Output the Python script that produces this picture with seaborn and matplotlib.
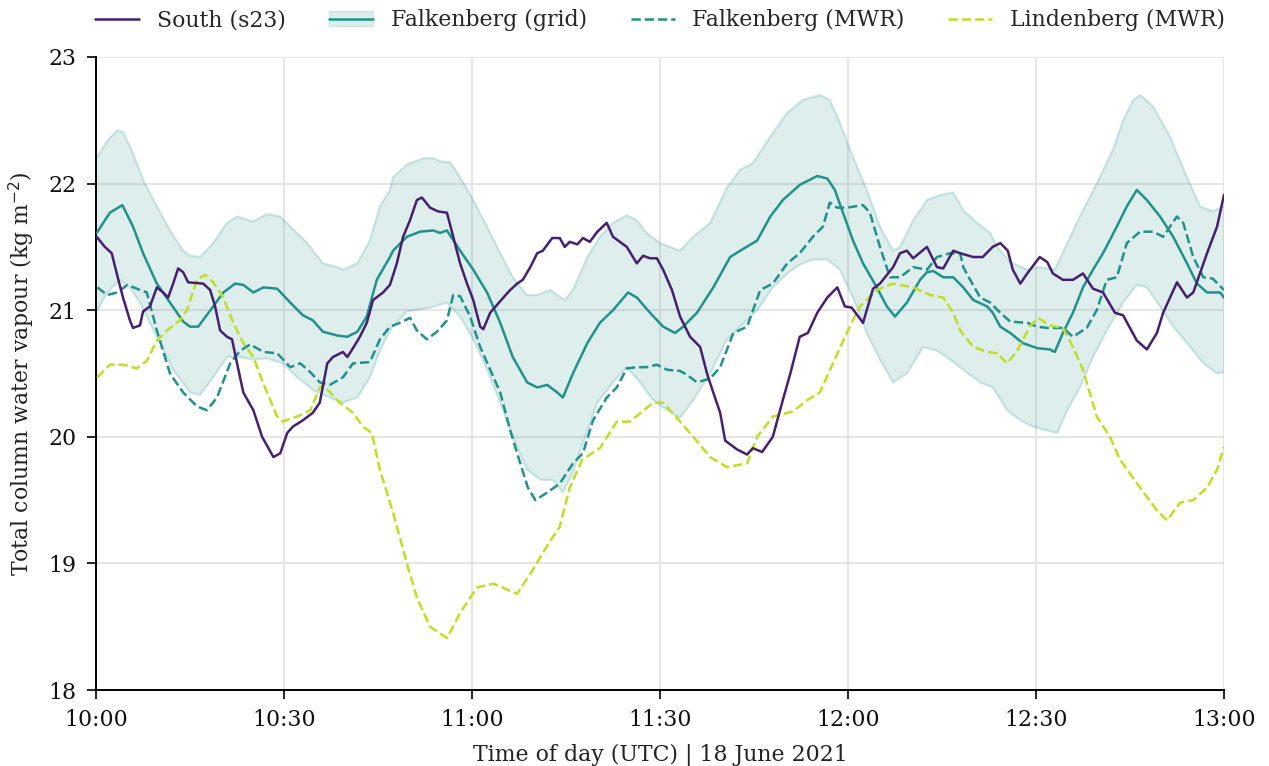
import numpy as np
import pandas as pd
import matplotlib
matplotlib.use("Agg")
import matplotlib.pyplot as plt
from matplotlib.patches import Patch
from matplotlib.lines import Line2D
import seaborn as sns

# ---- data: minutes after 10:00 UTC, total column water vapour (kg m-2) ----
south_t = [0.1, 1.4, 2.5, 3.3, 4.3, 5.4, 5.9, 7.0, 7.5, 8.6, 9.7, 10.7, 11.5, 12.3, 13.1, 13.9, 14.7,
           17.1, 18.2, 19.0, 19.8, 20.9, 21.7, 22.5, 23.5, 25.1, 26.5, 28.3, 29.4, 30.5, 31.4, 33.0,
           34.6, 35.7, 36.9, 37.8, 39.4, 40.1, 41.0, 42.1, 43.2, 44.2, 45.8, 46.9, 48.0, 49.0, 50.1,
           51.2, 52.0, 53.3, 54.6, 56.0, 57.0, 58.1, 59.2, 60.2, 61.3, 61.8, 62.9, 65.0, 66.1, 67.2,
           68.1, 69.3, 70.4, 71.3, 72.8, 74.0, 74.8, 75.6, 76.8, 77.7, 78.8, 80.0, 81.5, 82.5, 84.7,
           86.3, 87.3, 88.4, 89.5, 90.5, 91.9, 93.2, 94.8, 96.4, 97.5, 98.5, 99.6, 100.4, 102.3,
           103.9, 104.8, 106.3, 108.0, 109.6, 110.8, 112.3, 113.6, 115.1, 116.7, 118.3, 119.5, 120.6,
           122.4, 124.0, 125.1, 127.2, 128.3, 129.4, 130.4, 132.6, 134.2, 135.2, 136.8, 137.9, 140.0,
           141.5, 143.1, 144.3, 145.5, 146.3, 147.5, 148.6, 150.6, 151.8, 152.7, 154.3, 155.9, 157.5,
           159.1, 160.7, 162.6, 163.9, 166.1, 167.7, 169.3, 170.3, 172.5, 174.1, 175.1, 177.3, 178.9,
           180.0]
south_v = [21.58, 21.50, 21.45, 21.29, 21.10, 20.92, 20.86, 20.88, 20.99, 21.03, 21.18, 21.14, 21.10,
           21.21, 21.33, 21.30, 21.22, 21.21, 21.16, 21.03, 20.84, 20.79, 20.77, 20.58, 20.35, 20.21,
           20.00, 19.84, 19.87, 20.03, 20.08, 20.13, 20.19, 20.27, 20.58, 20.63, 20.67, 20.63, 20.70,
           20.79, 20.90, 21.08, 21.14, 21.20, 21.37, 21.58, 21.71, 21.87, 21.89, 21.81, 21.78, 21.77,
           21.58, 21.37, 21.21, 21.08, 20.87, 20.85, 20.98, 21.10, 21.16, 21.21, 21.24, 21.34, 21.45,
           21.47, 21.57, 21.57, 21.50, 21.54, 21.52, 21.57, 21.54, 21.62, 21.69, 21.58, 21.50, 21.37,
           21.43, 21.41, 21.41, 21.32, 21.16, 20.95, 20.79, 20.71, 20.50, 20.35, 20.19, 19.97, 19.90,
           19.86, 19.91, 19.88, 20.00, 20.29, 20.50, 20.79, 20.82, 20.98, 21.10, 21.18, 21.03, 21.02,
           20.90, 21.17, 21.21, 21.34, 21.45, 21.47, 21.41, 21.50, 21.34, 21.33, 21.47, 21.45, 21.42,
           21.42, 21.50, 21.53, 21.47, 21.32, 21.21, 21.29, 21.42, 21.38, 21.29, 21.24, 21.24, 21.29,
           21.17, 21.14, 20.98, 20.96, 20.76, 20.69, 20.82, 20.98, 21.22, 21.10, 21.14, 21.45, 21.66,
           21.91]

grid_t = [0.1, 2.2, 4.2, 5.9, 7.5, 9.7, 11.8, 13.9, 15.0, 16.3, 18.7, 20.3, 22.2, 23.5, 25.1, 26.7,
          28.9, 31.0, 33.0, 34.6, 36.2, 38.5, 40.1, 41.7, 43.2, 44.8, 46.9, 47.4, 49.6, 51.7, 53.8,
          54.9, 56.0, 58.1, 60.2, 62.4, 64.5, 66.5, 68.8, 70.4, 72.0, 73.6, 74.5, 76.1, 78.4, 80.4,
          82.5, 84.9, 86.3, 88.4, 90.5, 92.4, 93.7, 95.9, 98.5, 101.2, 102.8, 105.5, 107.6, 109.6,
          112.3, 115.1, 116.7, 117.9, 119.2, 120.8, 122.4, 124.6, 126.2, 127.5, 129.4, 131.5, 132.6,
          133.6, 135.2, 136.8, 138.4, 140.0, 142.2, 143.1, 144.3, 145.9, 147.9, 150.2, 152.2, 153.0,
          154.3, 155.9, 157.5, 159.1, 160.7, 162.9, 164.5, 166.1, 167.7, 169.8, 171.9, 174.1, 175.7,
          177.3, 179.4, 180.0]
grid_v = [21.61, 21.77, 21.83, 21.66, 21.45, 21.21, 21.06, 20.91, 20.87, 20.87, 21.03, 21.14, 21.21,
          21.20, 21.14, 21.18, 21.17, 21.06, 20.96, 20.92, 20.83, 20.80, 20.79, 20.83, 20.95, 21.24,
          21.42, 21.47, 21.58, 21.62, 21.63, 21.61, 21.63, 21.47, 21.32, 21.14, 20.90, 20.63, 20.43,
          20.39, 20.41, 20.35, 20.31, 20.50, 20.74, 20.90, 21.00, 21.14, 21.10, 20.98, 20.87, 20.82,
          20.87, 20.98, 21.18, 21.42, 21.47, 21.55, 21.74, 21.87, 21.99, 22.06, 22.04, 21.95, 21.77,
          21.55, 21.37, 21.18, 21.03, 20.95, 21.06, 21.24, 21.30, 21.31, 21.26, 21.26, 21.18, 21.08,
          21.03, 20.98, 20.87, 20.82, 20.74, 20.70, 20.69, 20.67, 20.82, 20.98, 21.18, 21.32, 21.45,
          21.66, 21.82, 21.95, 21.87, 21.74, 21.58, 21.37, 21.21, 21.14, 21.14, 21.10]

grid_hi_t = [0.2, 1.8, 3.4, 4.3, 5.9, 7.5, 9.7, 11.8, 13.9, 15.0, 16.6, 18.7, 20.9, 22.5, 25.1, 27.3,
             29.4, 31.0, 33.7, 36.2, 38.5, 39.4, 41.7, 43.7, 45.3, 46.9, 47.4, 49.6, 52.2, 53.8, 55.4,
             56.5, 58.1, 60.2, 62.4, 64.5, 66.5, 68.8, 70.4, 72.5, 74.8, 76.1, 78.4, 80.4, 82.5, 84.7,
             86.3, 87.9, 90.0, 93.2, 95.3, 98.0, 100.7, 102.8, 104.8, 107.6, 110.3, 112.8, 115.5, 117.1,
             118.7, 120.8, 123.0, 125.1, 127.2, 128.3, 130.4, 132.6, 134.7, 136.8, 138.4, 140.6, 142.7,
             143.8, 145.9, 148.6, 150.6, 153.0, 155.0, 157.0, 159.7, 162.3, 163.9, 165.5, 166.6, 168.7,
             171.4, 174.1, 176.2, 178.2, 180.0]
grid_hi_v = [22.21, 22.34, 22.42, 22.41, 22.24, 22.03, 21.82, 21.63, 21.47, 21.43, 21.42, 21.53, 21.69,
             21.74, 21.70, 21.76, 21.74, 21.66, 21.53, 21.37, 21.34, 21.32, 21.37, 21.55, 21.82, 21.95,
             22.05, 22.15, 22.20, 22.20, 22.17, 22.17, 22.05, 21.87, 21.66, 21.45, 21.26, 21.12, 21.12,
             21.16, 21.08, 21.16, 21.42, 21.58, 21.69, 21.75, 21.71, 21.61, 21.53, 21.47, 21.58, 21.69,
             21.97, 22.11, 22.16, 22.37, 22.56, 22.66, 22.70, 22.66, 22.48, 22.21, 21.95, 21.66, 21.47,
             21.50, 21.71, 21.87, 21.91, 21.93, 21.79, 21.69, 21.61, 21.50, 21.38, 21.32, 21.34, 21.32,
             21.53, 21.74, 22.00, 22.27, 22.50, 22.66, 22.70, 22.61, 22.37, 22.05, 21.82, 21.78, 21.82]

grid_lo_t = [0.2, 1.8, 3.8, 5.4, 7.0, 9.7, 12.3, 15.0, 16.6, 18.7, 20.9, 23.0, 25.1, 27.3, 29.8, 32.1,
             34.6, 37.3, 39.4, 41.7, 43.7, 45.3, 46.9, 47.4, 49.6, 53.3, 56.0, 58.1, 60.2, 62.4, 64.5,
             66.5, 68.8, 70.9, 72.9, 74.5, 76.1, 77.7, 80.0, 82.5, 84.7, 86.8, 88.9, 91.1, 93.2, 95.3,
             98.0, 100.7, 102.8, 105.5, 108.0, 110.3, 112.3, 114.4, 116.7, 118.7, 120.8, 123.0, 125.1,
             127.2, 129.4, 132.0, 134.2, 136.3, 138.4, 141.1, 143.1, 145.4, 147.5, 149.5, 151.8, 153.4,
             155.0, 157.0, 159.1, 161.3, 163.9, 166.1, 167.7, 169.8, 171.9, 174.1, 176.7, 178.9, 180.0]
grid_lo_v = [21.00, 21.14, 21.24, 21.18, 21.06, 20.79, 20.53, 20.35, 20.33, 20.47, 20.63, 20.63, 20.61,
             20.62, 20.58, 20.47, 20.37, 20.31, 20.27, 20.31, 20.47, 20.68, 20.84, 20.87, 20.99, 21.02,
             21.06, 20.95, 20.77, 20.53, 20.27, 20.00, 19.74, 19.66, 19.66, 19.56, 19.72, 19.95, 20.27,
             20.43, 20.55, 20.43, 20.29, 20.21, 20.15, 20.29, 20.50, 20.77, 20.87, 21.00, 21.18, 21.29,
             21.36, 21.40, 21.40, 21.32, 21.10, 20.82, 20.61, 20.43, 20.50, 20.71, 20.68, 20.61, 20.53,
             20.43, 20.39, 20.21, 20.13, 20.08, 20.05, 20.03, 20.21, 20.39, 20.63, 20.84, 21.06, 21.20,
             21.18, 21.03, 20.87, 20.74, 20.58, 20.50, 20.51]

fmwr_t = [0.2, 1.8, 3.4, 5.0, 6.5, 8.1, 9.7, 11.8, 13.9, 16.1, 17.7, 19.3, 21.4, 23.0, 24.6, 26.7,
          28.9, 31.0, 32.6, 34.2, 35.7, 37.3, 39.4, 41.0, 43.7, 45.3, 46.9, 48.5, 50.1, 51.2, 52.8,
          54.4, 56.0, 57.0, 58.1, 59.7, 61.3, 62.9, 64.5, 66.1, 67.7, 68.9, 70.1, 72.0, 74.0, 76.1,
          77.7, 79.3, 81.5, 83.1, 84.7, 86.3, 87.9, 89.5, 91.1, 93.2, 94.3, 95.9, 98.0, 99.6, 101.7,
          103.9, 106.0, 108.0, 110.3, 112.3, 114.4, 116.0, 117.1, 118.3, 119.8, 122.4, 123.5, 125.1,
          126.7, 128.3, 130.4, 132.6, 134.2, 136.3, 137.9, 138.4, 139.5, 141.1, 142.7, 144.3, 145.9,
          148.6, 150.2, 151.8, 154.3, 155.9, 158.1, 159.7, 161.3, 162.9, 164.5, 166.6, 168.7, 170.3,
          171.4, 172.5, 173.5, 175.1, 176.7, 178.2, 180.0]
fmwr_v = [21.18, 21.12, 21.14, 21.20, 21.17, 21.14, 20.84, 20.50, 20.35, 20.24, 20.21, 20.31, 20.58,
          20.68, 20.73, 20.67, 20.66, 20.55, 20.58, 20.51, 20.43, 20.41, 20.47, 20.58, 20.59, 20.77,
          20.87, 20.90, 20.94, 20.84, 20.77, 20.83, 20.92, 21.12, 21.11, 20.95, 20.71, 20.53, 20.35,
          20.05, 19.79, 19.60, 19.50, 19.56, 19.63, 19.79, 19.87, 20.13, 20.31, 20.39, 20.54, 20.55,
          20.55, 20.57, 20.53, 20.52, 20.49, 20.43, 20.46, 20.55, 20.82, 20.87, 21.16, 21.21, 21.37,
          21.45, 21.58, 21.66, 21.85, 21.81, 21.81, 21.83, 21.77, 21.50, 21.26, 21.26, 21.34, 21.32,
          21.42, 21.45, 21.45, 21.34, 21.24, 21.10, 21.06, 20.98, 20.91, 20.90, 20.87, 20.86, 20.86,
          20.79, 20.86, 21.00, 21.24, 21.26, 21.53, 21.62, 21.62, 21.58, 21.66, 21.74, 21.69, 21.42,
          21.26, 21.25, 21.16]

lmwr_t = [0.2, 2.2, 4.3, 6.5, 8.1, 9.7, 11.3, 13.4, 14.5, 16.1, 17.4, 18.7, 20.3, 21.9, 23.5, 25.1,
          26.7, 28.9, 29.8, 32.6, 34.2, 35.7, 36.2, 38.9, 41.0, 42.6, 44.0, 45.3, 47.4, 49.6, 51.2,
          53.3, 56.0, 58.1, 60.8, 63.4, 67.2, 69.7, 72.5, 74.0, 75.6, 77.6, 80.4, 83.1, 85.2, 88.9,
          90.5, 93.2, 95.3, 98.0, 100.7, 103.9, 105.5, 108.0, 111.2, 113.5, 115.5, 117.6, 119.8,
          121.9, 124.6, 127.2, 130.4, 133.1, 135.2, 136.8, 137.9, 140.0, 142.2, 143.8, 145.4, 147.0,
          149.0, 150.3, 152.2, 154.3, 155.9, 157.5, 159.7, 161.8, 163.4, 166.6, 169.3, 170.9, 173.0,
          175.1, 177.3, 178.9, 180.0]
lmwr_v = [20.47, 20.57, 20.57, 20.54, 20.60, 20.76, 20.84, 20.92, 21.00, 21.24, 21.28, 21.22, 21.10,
          20.90, 20.74, 20.63, 20.42, 20.16, 20.12, 20.17, 20.21, 20.39, 20.41, 20.27, 20.19, 20.08,
          20.03, 19.74, 19.40, 19.00, 18.73, 18.50, 18.41, 18.61, 18.81, 18.84, 18.76, 18.95, 19.18,
          19.29, 19.60, 19.82, 19.91, 20.12, 20.12, 20.27, 20.27, 20.12, 20.00, 19.84, 19.76, 19.79,
          20.00, 20.16, 20.20, 20.29, 20.35, 20.58, 20.82, 21.03, 21.16, 21.21, 21.18, 21.12, 21.10,
          20.98, 20.84, 20.71, 20.67, 20.66, 20.58, 20.68, 20.87, 20.94, 20.88, 20.86, 20.71, 20.53,
          20.16, 20.00, 19.82, 19.60, 19.42, 19.34, 19.48, 19.50, 19.60, 19.74, 19.92]

x_ticks = [0, 30, 60, 90, 120, 150, 180]
x_tick_labels = ["10:00", "10:30", "11:00", "11:30", "12:00", "12:30", "13:00"]
y_ticks = [18, 19, 20, 21, 22, 23]

# ---- style ----
sns.set_theme(style="whitegrid")
plt.rcParams["font.family"] = ["DejaVu Serif"]
FS = 15.8

c_south = "#46206f"
c_falk = "#21918c"
c_lind = "#bddf26"
LW = 1.8

fig = plt.figure(figsize=(12.69, 7.66), dpi=100)
ax = fig.add_axes([0.0757, 0.0992, 0.8888, 0.8264])

# grid spread band
band_x = np.concatenate([grid_hi_t, grid_lo_t[::-1]])
band_y = np.concatenate([grid_hi_v, grid_lo_v[::-1]])
ax.fill(band_x, band_y, facecolor=c_falk, alpha=0.15, edgecolor="none", zorder=1)
ax.plot(grid_hi_t, grid_hi_v, color=c_falk, alpha=0.2, lw=1.6, zorder=1)
ax.plot(grid_lo_t, grid_lo_v, color=c_falk, alpha=0.2, lw=1.6, zorder=1)

sns.lineplot(x=grid_t, y=grid_v, ax=ax, color=c_falk, lw=LW, zorder=3)
sns.lineplot(x=fmwr_t, y=fmwr_v, ax=ax, color=c_falk, lw=LW, linestyle="--", zorder=3)
sns.lineplot(x=lmwr_t, y=lmwr_v, ax=ax, color=c_lind, lw=LW, linestyle="--", zorder=3)
sns.lineplot(x=south_t, y=south_v, ax=ax, color=c_south, lw=LW, zorder=4)

ax.set_xlim(0, 180)
ax.set_ylim(18, 23)
ax.set_xticks(x_ticks)
ax.set_xticklabels(x_tick_labels)
ax.set_yticks(y_ticks)
ax.grid(True, color="#e6e6e6", lw=1.5)
ax.set_axisbelow(True)
for side in ("top", "right"):
    ax.spines[side].set_visible(False)
for side in ("left", "bottom"):
    ax.spines[side].set_color("black")
    ax.spines[side].set_linewidth(1.4)
ax.tick_params(axis="both", which="major", direction="out", length=6.5, width=1.2,
               color="black", labelsize=FS, labelcolor="#111111", bottom=True, left=True, pad=7.5)
ax.set_xlabel("Time of day (UTC) | 18 June 2021", fontsize=FS, color="#222222", labelpad=8.5)
ax.set_ylabel("Total column water vapour (kg m$^{-2}$)", fontsize=FS, color="#222222", labelpad=8)

handles = [
    Line2D([], [], color=c_south, lw=LW),
    (Patch(facecolor=c_falk, alpha=0.15, edgecolor=(0.13, 0.57, 0.55, 0.25)), Line2D([], [], color=c_falk, lw=LW)),
    Line2D([], [], color=c_falk, lw=LW, linestyle="--"),
    Line2D([], [], color=c_lind, lw=LW, linestyle="--"),
]
labels = ["South (s23)", "Falkenberg (grid)", "Falkenberg (MWR)", "Lindenberg (MWR)"]
ax.legend(handles, labels, loc="center", bbox_to_anchor=(0.5, 1.058), ncol=4, frameon=False,
          fontsize=FS, handlelength=2.0, columnspacing=2.0, handletextpad=0.8, borderaxespad=0.0)

fig.savefig("out.png", dpi=100)
